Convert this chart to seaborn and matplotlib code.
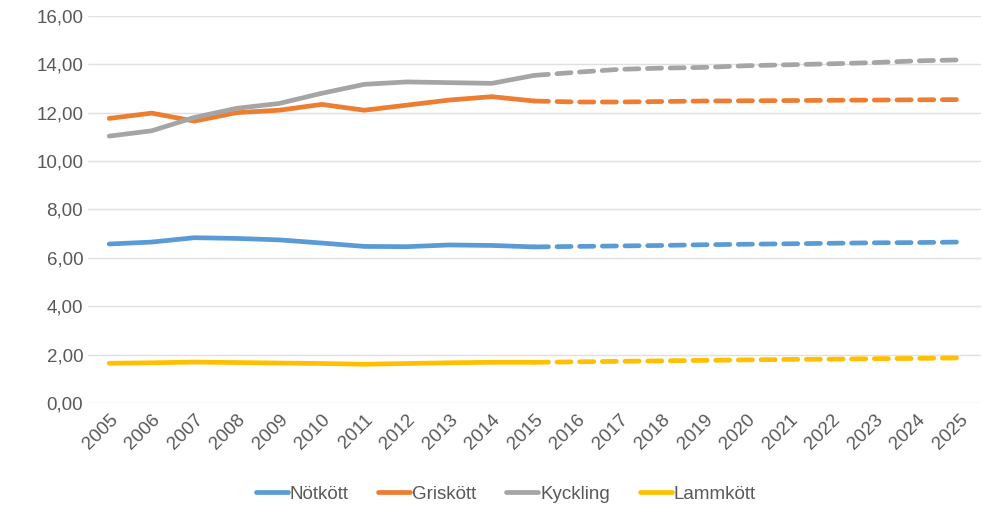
import matplotlib
matplotlib.use('Agg')
import matplotlib.pyplot as plt
import seaborn as sns
import pandas as pd
from matplotlib.lines import Line2D
from matplotlib.ticker import FuncFormatter

years = list(range(2005, 2026))
hist_years = years[:11]      # 2005-2015
fc_years = years[10:]        # 2015-2025 (forecast, dashed)

notkott_hist = [6.57, 6.65, 6.83, 6.80, 6.74, 6.61, 6.47, 6.46, 6.53, 6.51, 6.45]
notkott_fc = [6.45, 6.47, 6.49, 6.51, 6.54, 6.56, 6.58, 6.60, 6.62, 6.63, 6.65]
griskott_hist = [11.76, 11.98, 11.65, 12.00, 12.10, 12.34, 12.10, 12.31, 12.52, 12.66, 12.48]
griskott_fc = [12.48, 12.44, 12.44, 12.46, 12.48, 12.49, 12.50, 12.51, 12.52, 12.53, 12.54]
kyckling_hist = [11.03, 11.25, 11.80, 12.18, 12.38, 12.80, 13.17, 13.27, 13.24, 13.21, 13.54]
kyckling_fc = [13.54, 13.67, 13.79, 13.84, 13.87, 13.94, 13.98, 14.02, 14.07, 14.14, 14.18]
lammkott_hist = [1.64, 1.66, 1.69, 1.67, 1.65, 1.63, 1.60, 1.63, 1.66, 1.68, 1.68]
lammkott_fc = [1.68, 1.70, 1.72, 1.74, 1.76, 1.78, 1.80, 1.81, 1.83, 1.84, 1.86]

series = ["Nötkött", "Griskött", "Kyckling", "Lammkött"]
colors = {"Nötkött": "#5b9bd5", "Griskött": "#ed7d31",
          "Kyckling": "#a5a5a5", "Lammkött": "#ffc000"}

hist = {"Nötkött": notkott_hist, "Griskött": griskott_hist,
        "Kyckling": kyckling_hist, "Lammkött": lammkott_hist}
fc = {"Nötkött": notkott_fc, "Griskött": griskott_fc,
      "Kyckling": kyckling_fc, "Lammkött": lammkott_fc}

rows = []
for s in series:
    for y, v in zip(hist_years, hist[s]):
        rows.append((y, v, s, "hist"))
    for y, v in zip(fc_years, fc[s]):
        rows.append((y, v, s, "fc"))
df = pd.DataFrame(rows, columns=["year", "value", "serie", "fas"])

sns.set_style("white")
plt.rcParams['font.family'] = ['Liberation Sans Narrow', 'Liberation Sans', 'DejaVu Sans']

fig = plt.figure(figsize=(9.82, 5.12), dpi=100)
ax = fig.add_axes([0.0896, 0.213, 0.909, 0.756])

for s in series:
    for fas, ls in (("hist", "-"), ("fc", (0, (3.0, 1.8)))):
        sub = df[(df.serie == s) & (df.fas == fas)]
        sns.lineplot(data=sub, x="year", y="value", ax=ax, color=colors[s],
                     linewidth=3.4, linestyle=ls, solid_capstyle="round",
                     dash_capstyle="round", legend=False)

ax.set_xlim(2004.5, 2025.5)
ax.set_ylim(0, 16)
ax.set_yticks(range(0, 17, 2))
ax.yaxis.set_major_formatter(FuncFormatter(lambda v, p: f"{v:.2f}".replace(".", ",")))
ax.set_xticks(years)
ax.set_xticklabels([str(y) for y in years], rotation=45, ha="right",
                   rotation_mode="anchor")
ax.tick_params(axis="both", colors="#595959", labelsize=13.5, length=0)
ax.tick_params(axis="x", pad=6)
ax.grid(axis="y", color="#e0e0e0", linewidth=1)
ax.set_axisbelow(True)
for sp in ax.spines.values():
    sp.set_visible(False)
ax.set_xlabel("")
ax.set_ylabel("")

handles = [Line2D([], [], color=colors[s], linewidth=3.4, solid_capstyle="round")
           for s in series]
leg = fig.legend(handles, series, loc="center", bbox_to_anchor=(0.515, 0.035),
                 ncol=4, frameon=False, fontsize=13.5, handlelength=1.7,
                 handletextpad=0.1, columnspacing=1.6)
for t in leg.get_texts():
    t.set_color("#595959")

fig.savefig("out.png", dpi=100)
